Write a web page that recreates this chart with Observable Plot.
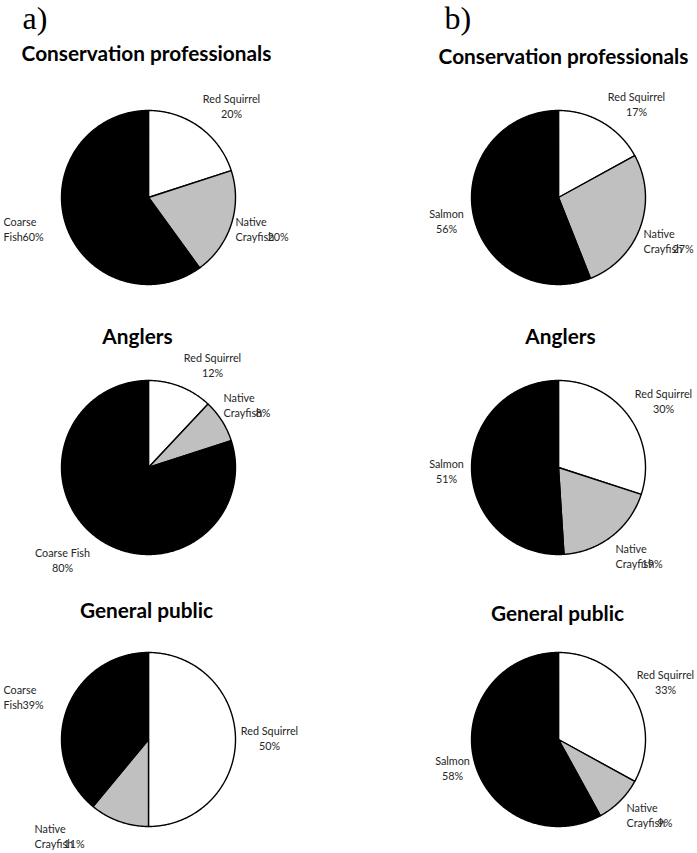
<!DOCTYPE html>
<html><head><meta charset="utf-8">
<script src="https://cdn.jsdelivr.net/npm/d3@7"></script>
<script src="https://cdn.jsdelivr.net/npm/@observablehq/plot@0.6"></script>
<style>body{margin:0;background:#fff}</style>
</head><body><div id="chart"></div>
<script>
// ---- data ----
const panelLabels = ["a)", "b)"];
const groups = ["Conservation professionals", "Anglers", "General public"];
const speciesA = ["Red Squirrel", "Native Crayfish", "Coarse Fish"];
const speciesB = ["Red Squirrel", "Native Crayfish", "Salmon"];
const percentA = [[20, 20, 60], [12, 8, 80], [50, 11, 39]];
const percentB = [[17, 27, 56], [30, 19, 51], [33, 9, 58]];

// ---- layout / style ----
const W = 697, H = 853;
const colX = [148, 558];
const rowY = [197, 467, 739];
const R = 87;
const shades = ["#ffffff", "#c0c0c0", "#000000"];
const panelPos = [[22, 28], [444, 28]];
const titlePos = [[[146, 60], [137, 343], [146, 617]], [[563, 63], [560, 343], [557, 620]]];
const lineH = 15.5;
const labelLayout = [
  [
    [{dx: 83, dy: -95, kind: "stack"}, {dx: 87, dy: 28, kind: "wrap", shift: 32}, {dx: -145, dy: 28, kind: "wrap", shift: 19}],
    [{dx: 64, dy: -106, kind: "stack"}, {dx: 75, dy: -66, kind: "wrap", shift: 32}, {dx: -86, dy: 89, kind: "stack"}],
    [{dx: 121, dy: -5, kind: "stack"}, {dx: -114, dy: 93, kind: "wrap", shift: 29}, {dx: -145, dy: -46, kind: "wrap", shift: 19}]
  ],
  [
    [{dx: 78, dy: -97, kind: "stack"}, {dx: 85, dy: 40, kind: "wrap", shift: 29}, {dx: -112, dy: 20, kind: "stack"}],
    [{dx: 105, dy: -70, kind: "stack"}, {dx: 57, dy: 85, kind: "wrap", shift: 26}, {dx: -112, dy: 0, kind: "stack"}],
    [{dx: 107, dy: -61, kind: "stack"}, {dx: 68, dy: 72, kind: "wrap", shift: 31}, {dx: -106, dy: 25, kind: "stack"}]
  ]
];

// ---- build slices and labels ----
const slicePts = [];
const labelRows = [];
const titleRows = [];
const panelRows = panelLabels.map((t, c) => ({text: t, x: panelPos[c][0], y: panelPos[c][1]}));
const pie = d3.pie().sort(null).value(d => d.v);
[[speciesA, percentA], [speciesB, percentB]].forEach(([species, pcts], c) => {
  groups.forEach((g, r) => {
    const cx = colX[c], cy = rowY[r];
    titleRows.push({text: g, x: titlePos[c][r][0], y: titlePos[c][r][1]});
    const arcs = pie(pcts[r].map((v, i) => ({v, i, name: species[i]})));
    arcs.forEach(a => {
      const id = `${c}-${r}-${a.data.i}`;
      const fill = shades[a.data.i];
      slicePts.push({id, fill, x: cx, y: cy});
      const n = Math.max(2, Math.ceil((a.endAngle - a.startAngle) / 0.01));
      for (let k = 0; k <= n; k++) {
        const t = a.startAngle + (a.endAngle - a.startAngle) * k / n;
        slicePts.push({id, fill, x: cx + R * Math.sin(t), y: cy - R * Math.cos(t)});
      }
      const L = labelLayout[c][r][a.data.i];
      const lx = cx + L.dx, ly = cy + L.dy;
      const pct = `${a.data.v}%`;
      if (L.kind === "stack") {
        labelRows.push({text: a.data.name, x: lx, y: ly, anchor: "middle"});
        labelRows.push({text: pct, x: lx, y: ly + lineH, anchor: "middle"});
      } else {
        const words = a.data.name.split(" ");
        labelRows.push({text: words[0], x: lx, y: ly, anchor: "start"});
        labelRows.push({text: words[1], x: lx, y: ly + lineH, anchor: "start"});
        labelRows.push({text: pct, x: lx + L.shift, y: ly + lineH, anchor: "start"});
      }
    });
  });
});

const chart = Plot.plot({
  width: W, height: H, margin: 0,
  x: {domain: [0, W], range: [0, W], axis: null},
  y: {domain: [0, H], range: [0, H], axis: null},
  color: {type: "identity"},
  marks: [
    Plot.line(slicePts, {x: "x", y: "y", z: "id", fill: "fill", stroke: "#000", strokeWidth: 1.4, curve: "linear-closed", strokeLinejoin: "round"}),
    Plot.text(labelRows.filter(d => d.anchor === "middle"), {x: "x", y: "y", text: "text", textAnchor: "middle", lineAnchor: "bottom", fontSize: 10.8, fontFamily: "Lato", fill: "#262626"}),
    Plot.text(labelRows.filter(d => d.anchor === "start"), {x: "x", y: "y", text: "text", textAnchor: "start", lineAnchor: "bottom", fontSize: 10.8, fontFamily: "Lato", fill: "#262626"}),
    Plot.text(titleRows, {x: "x", y: "y", text: "text", textAnchor: "middle", lineAnchor: "bottom", fontSize: 20.8, fontWeight: "bold", fontFamily: "Lato", fill: "#000"}),
    Plot.text(panelRows, {x: "x", y: "y", text: "text", textAnchor: "start", lineAnchor: "bottom", fontSize: 32, fontFamily: "Liberation Serif", fill: "#000"})
  ]
});
document.getElementById("chart").appendChild(chart);
</script>
</body></html>
